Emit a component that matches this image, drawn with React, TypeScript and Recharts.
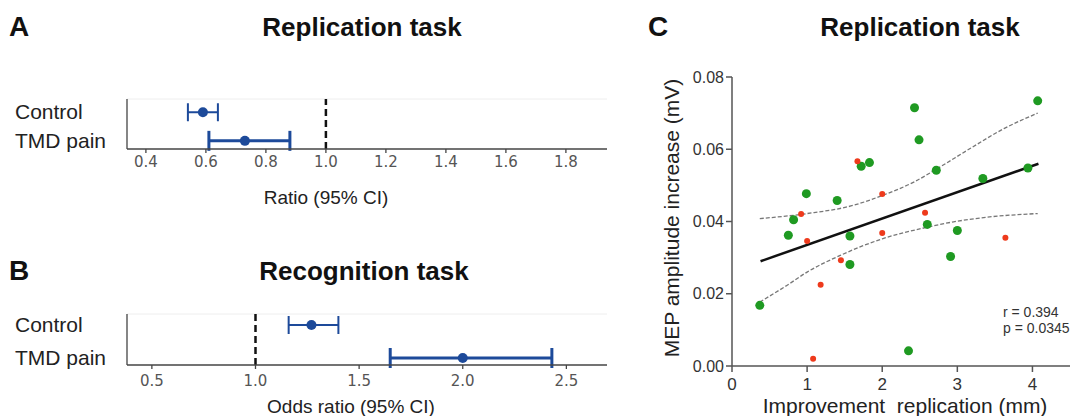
import React from 'react';
import {
  ScatterChart, Scatter, XAxis, YAxis, ErrorBar, ReferenceLine,
  ComposedChart, Line,
} from 'recharts';

// panel A – replication task ratios
const replControl = [{ x: 0.59, row: 2, lo: 0.54, hi: 0.64 }];
const replTmd = [{ x: 0.73, row: 1, lo: 0.61, hi: 0.88 }];
const replTicks = [0.4, 0.6, 0.8, 1.0, 1.2, 1.4, 1.6, 1.8];

// panel B – recognition task odds ratios
const recogControl = [{ x: 1.27, row: 2, lo: 1.16, hi: 1.40 }];
const recogTmd = [{ x: 2.0, row: 1, lo: 1.65, hi: 2.43 }];
const recogTicks = [0.5, 1.0, 1.5, 2.0, 2.5];

const rowNames: Record<number, string> = { 1: 'TMD pain', 2: 'Control' };

// panel C – MEP increase vs improvement
const greenPts = [
  { x: 0.37, y: 0.0168 }, { x: 0.75, y: 0.0362 }, { x: 0.82, y: 0.0405 },
  { x: 0.99, y: 0.0477 }, { x: 1.40, y: 0.0458 }, { x: 1.57, y: 0.0360 },
  { x: 1.57, y: 0.0281 }, { x: 1.72, y: 0.0553 }, { x: 1.83, y: 0.0563 },
  { x: 2.43, y: 0.0715 }, { x: 2.49, y: 0.0626 }, { x: 2.60, y: 0.0392 },
  { x: 2.72, y: 0.0542 }, { x: 2.35, y: 0.0042 }, { x: 2.91, y: 0.0303 },
  { x: 3.00, y: 0.0375 }, { x: 3.34, y: 0.0519 }, { x: 3.94, y: 0.0548 },
  { x: 4.07, y: 0.0734 },
];
const redPts = [
  { x: 0.92, y: 0.0421 }, { x: 1.00, y: 0.0346 }, { x: 1.18, y: 0.0225 },
  { x: 1.08, y: 0.0020 }, { x: 1.45, y: 0.0293 }, { x: 1.67, y: 0.0567 },
  { x: 2.00, y: 0.0476 }, { x: 2.00, y: 0.0368 }, { x: 2.57, y: 0.0424 },
  { x: 3.64, y: 0.0355 },
];
const fitLine = [{ x: 0.38, y: 0.029 }, { x: 4.08, y: 0.056 }];
const ciUpper = [
  { x: 0.37, y: 0.0408 }, { x: 1.0, y: 0.0422 }, { x: 1.62, y: 0.0445 },
  { x: 2.0, y: 0.0472 }, { x: 2.42, y: 0.0509 }, { x: 2.73, y: 0.0546 },
  { x: 3.17, y: 0.0602 }, { x: 3.62, y: 0.0657 }, { x: 4.07, y: 0.070 },
];
const ciLower = [
  { x: 0.37, y: 0.0177 }, { x: 0.73, y: 0.0223 }, { x: 1.0, y: 0.026 },
  { x: 1.44, y: 0.0306 }, { x: 2.0, y: 0.0352 }, { x: 2.51, y: 0.038 },
  { x: 2.95, y: 0.0399 }, { x: 3.40, y: 0.0412 }, { x: 4.07, y: 0.0422 },
];
const cTicksX = [0, 1, 2, 3, 4];
const cTicksY = [0, 0.02, 0.04, 0.06, 0.08];

const BLUE = '#1d4a9a';
const GREEN = '#1f9a22';
const RED = '#ee3a1c';
const SANS = '"Liberation Sans", Arial, sans-serif';
const MPL = '"DejaVu Sans", sans-serif';

const withErr = (d: any[]) => d.map(p => ({ ...p, err: [p.x - p.lo, p.hi - p.x] }));

const RowTick = (props: any) => (
  <text x={15} y={props.y} dy={7} fontSize={21} fontFamily={SANS} fill="#222">
    {rowNames[props.payload.value]}
  </text>
);

const dot = (r: number, color: string) => (p: any) => (
  <circle cx={p.cx} cy={p.cy} r={r} fill={color} />
);

const ForestPanel = (props: {
  top: number; height: number; marginTop: number; axisH: number; tickGap: number;
  domain: [number, number]; rowDomain: [number, number]; ticks: number[];
  control: any[]; tmd: any[]; label: string; labelX: number; labelY: number;
}) => (
  <div style={{ position: 'absolute', left: 0, top: props.top }}>
    <ScatterChart width={620} height={props.height}
      margin={{ top: props.marginTop, right: 13, bottom: 1, left: 0 }}>
      <XAxis type="number" dataKey="x" domain={props.domain} ticks={props.ticks}
        allowDataOverflow height={props.axisH} stroke="#444" strokeWidth={1.3} tickSize={4}
        tickMargin={props.tickGap}
        tick={{ fontSize: 15, fontFamily: MPL, fill: '#555' }}
        tickFormatter={(v: number) => v.toFixed(1)}
        label={() => (
          <text x={props.labelX} y={props.labelY} textAnchor="middle" fontSize={19}
            fontFamily={SANS} fill="#222">{props.label}</text>
        )} />
      <YAxis type="number" dataKey="row" domain={props.rowDomain} ticks={[1, 2]}
        allowDataOverflow width={127} stroke="#444" strokeWidth={1.3} tickLine={false}
        tick={<RowTick />} />
      <ReferenceLine y={props.rowDomain[1]} stroke="#eeeeee" />
      <ReferenceLine x={1} stroke="#111" strokeWidth={2.5} strokeDasharray="7 4" />
      <Scatter data={withErr(props.control)} fill={BLUE} shape={dot(5, BLUE)} isAnimationActive={false}>
        <ErrorBar dataKey="err" direction="x" width={9} stroke={BLUE} strokeWidth={2} />
      </Scatter>
      <Scatter data={withErr(props.tmd)} fill={BLUE} shape={dot(5, BLUE)} isAnimationActive={false}>
        <ErrorBar dataKey="err" direction="x" width={10} stroke={BLUE} strokeWidth={3} />
      </Scatter>
    </ScatterChart>
  </div>
);

const heading = (text: string, left: number, top: number, size: number, center = false) => (
  <div style={{
    position: 'absolute', left, top, fontFamily: SANS, fontWeight: 'bold', fontSize: size,
    color: '#111', transform: center ? 'translateX(-50%)' : undefined, whiteSpace: 'nowrap',
    lineHeight: 1,
  }}>{text}</div>
);

export default function App() {
  return (
    <div style={{ position: 'absolute', left: 0, top: 0, width: 1070, height: 416, background: '#fff', overflow: 'hidden' }}>
      {heading('A', 9, 13, 28)}
      {heading('Replication task', 362, 14, 26, true)}
      {heading('B', 9, 257, 28)}
      {heading('Recognition task', 364, 258, 26, true)}
      {heading('C', 648, 13, 28)}
      {heading('Replication task', 920, 14, 26, true)}

      <ForestPanel top={0} height={210} marginTop={99} axisH={60} tickGap={3}
        domain={[0.337, 1.937]} rowDomain={[0.715, 2.463]} ticks={replTicks}
        control={replControl} tmd={replTmd} label="Ratio (95% CI)" labelX={326} labelY={204} />
      <ForestPanel top={210} height={206} marginTop={104} axisH={50} tickGap={6}
        domain={[0.38, 2.696]} rowDomain={[0.788, 2.334]} ticks={recogTicks}
        control={recogControl} tmd={recogTmd} label="Odds ratio (95% CI)" labelX={351} labelY={203} />

      <div style={{ position: 'absolute', left: 620, top: 0 }}>
        <ComposedChart width={450} height={416} margin={{ top: 77, right: 0, bottom: 0, left: 0 }}>
          <XAxis type="number" dataKey="x" domain={[0, 4.5]} ticks={cTicksX} allowDataOverflow
            height={50} stroke="#555" strokeWidth={1.5} tickSize={6} tickMargin={6}
            tick={{ fontSize: 17, fontFamily: SANS, fill: '#333' }}
            label={() => (
              <text x={285} y={413} textAnchor="middle" fontSize={21} fontFamily={SANS}
                fill="#222" style={{ whiteSpace: 'pre' }}>Improvement  replication (mm)</text>
            )} />
          <YAxis type="number" dataKey="y" domain={[0, 0.08]} ticks={cTicksY} allowDataOverflow
            width={112} stroke="#555" strokeWidth={1.5} tickSize={6}
            tick={{ fontSize: 16, fontFamily: SANS, fill: '#333' }}
            tickFormatter={(v: number) => v.toFixed(2)}
            label={() => (
              <text x={59} y={218} textAnchor="middle" fontSize={21} fontFamily={SANS}
                fill="#222" transform="rotate(-90 59 218)">MEP amplitude increase (mV)</text>
            )} />
          <Line data={ciUpper} dataKey="y" type="monotone" stroke="#777" strokeWidth={1.3}
            strokeDasharray="4 2" dot={false} isAnimationActive={false} />
          <Line data={ciLower} dataKey="y" type="monotone" stroke="#777" strokeWidth={1.3}
            strokeDasharray="4 2" dot={false} isAnimationActive={false} />
          <Line data={fitLine} dataKey="y" type="linear" stroke="#111" strokeWidth={2.5}
            dot={false} isAnimationActive={false} />
          <Scatter data={greenPts} dataKey="y" fill={GREEN} shape={dot(4.5, GREEN)} isAnimationActive={false} />
          <Scatter data={redPts} dataKey="y" fill={RED} shape={dot(3, RED)} isAnimationActive={false} />
        </ComposedChart>
      </div>

      <div style={{ position: 'absolute', left: 1003, top: 304, fontFamily: SANS, fontSize: 14, color: '#333', lineHeight: '16px' }}>
        <div>r = 0.394</div>
        <div>p = 0.0345</div>
      </div>
    </div>
  );
}
